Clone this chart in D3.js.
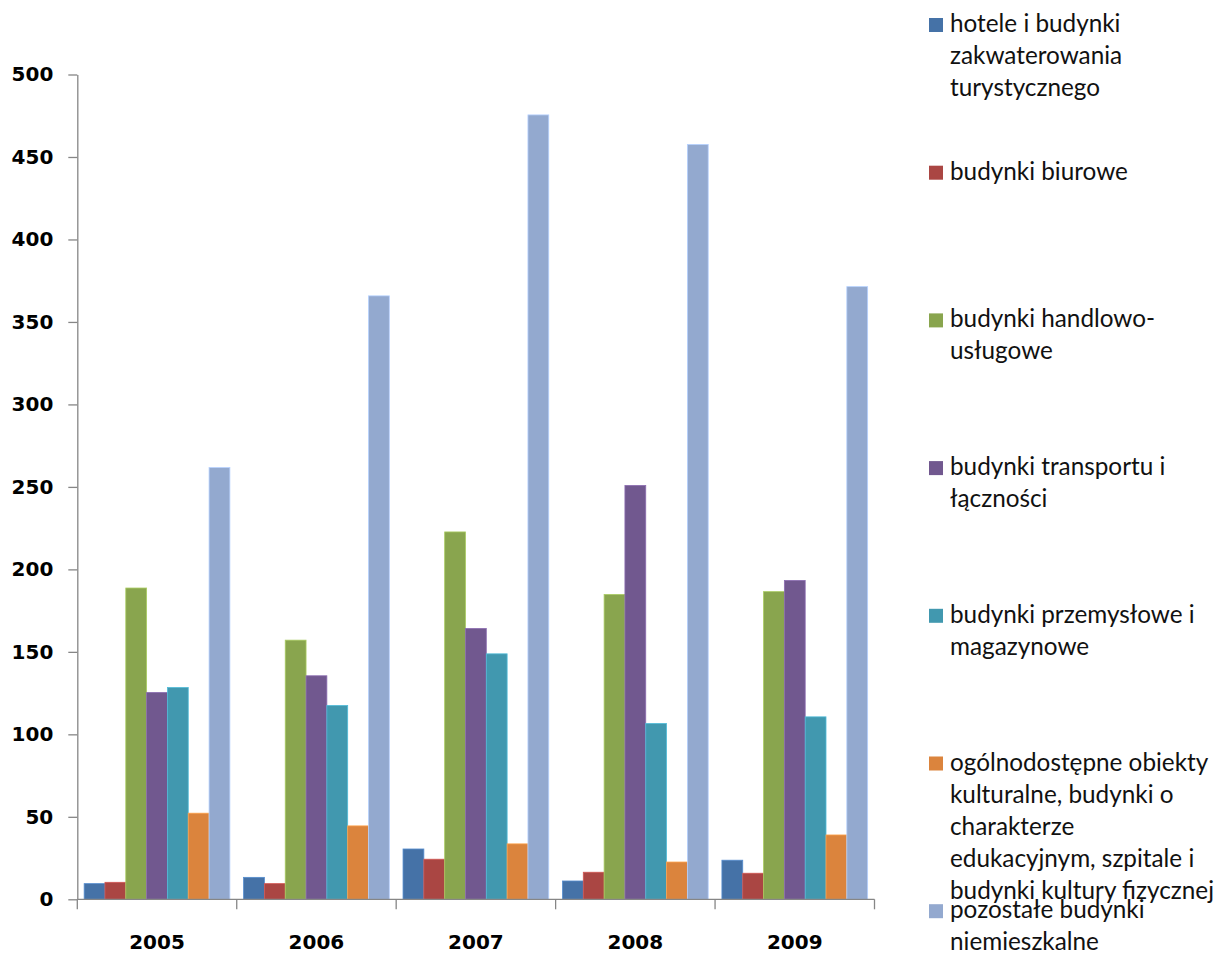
<!DOCTYPE html>
<html>
<head>
<meta charset="utf-8">
<script src="https://cdn.jsdelivr.net/npm/d3@7"></script>
<style>
  body { margin: 0; background: #fff; }
  svg { display: block; }
</style>
</head>
<body>
<div id="chart"></div>
<script>
const width = 1218;
const height = 956;

// Data
const years = ['2005', '2006', '2007', '2008', '2009'];
const seriesNames = [
  'hotele i budynki\nzakwaterowania\nturystycznego',
  'budynki biurowe',
  'budynki handlowo-\nusługowe',
  'budynki transportu i\nłączności',
  'budynki przemysłowe i\nmagazynowe',
  'ogólnodostępne obiekty\nkulturalne, budynki o\ncharakterze\nedukacyjnym, szpitale i\nbudynki kultury fizycznej',
  'pozostałe budynki\nniemieszkalne'
];
const hotele = [9.5, 13.3, 30.5, 11.1, 23.7];
const biurowe = [10.3, 9.5, 24.3, 16.4, 15.8];
const handlowe = [188.7, 157.1, 222.7, 184.8, 186.5];
const transport = [125.4, 135.5, 164.2, 250.9, 193.3];
const przemyslowe = [128.4, 117.5, 148.8, 106.6, 110.6];
const ogolnodostepne = [52.2, 44.5, 33.6, 22.6, 39.0];
const pozostale = [261.7, 365.8, 475.5, 457.6, 371.4];
const yTicks = [0, 50, 100, 150, 200, 250, 300, 350, 400, 450, 500];

const colors = ['#4572A7', '#AA4643', '#89A54E', '#71588F', '#4198AF', '#DB843D', '#93A9CF'];
const allSeries = [hotele, biurowe, handlowe, transport, przemyslowe, ogolnodostepne, pozostale];

const plot = { left: 77.3, right: 874.5, top: 74.5, bottom: 899.3 };

const svg = d3.select('#chart')
  .append('svg')
  .attr('width', width)
  .attr('height', height);

const y = d3.scaleLinear().domain([0, 500]).range([plot.bottom, plot.top]);
const x0 = d3.scaleBand().domain(years).range([plot.left, plot.right]);
const gap = x0.bandwidth() * 0.043;
const x1 = d3.scaleBand()
  .domain(d3.range(allSeries.length))
  .range([gap, x0.bandwidth() - gap]);

// === Bars ===
const groups = svg.append('g')
  .selectAll('g')
  .data(years)
  .join('g')
  .attr('transform', d => `translate(${x0(d)},0)`);

groups.selectAll('rect')
  .data((yr, i) => allSeries.map((s, k) => ({ k, v: s[i] })))
  .join('rect')
  .attr('x', d => x1(d.k))
  .attr('width', x1.bandwidth())
  .attr('y', d => y(d.v))
  .attr('height', d => plot.bottom - y(d.v))
  .attr('fill', d => colors[d.k])
  .attr('stroke', d => d3.color(colors[d.k]).brighter(0.6))
  .attr('stroke-width', 0.8);

// === Y axis ===
const yAxis = svg.append('g')
  .attr('transform', `translate(${plot.left},0)`)
  .call(d3.axisLeft(y).tickValues(yTicks).tickSize(9).tickPadding(15).tickSizeOuter(0));
yAxis.select('.domain').attr('stroke', '#868686').attr('stroke-width', 1.3);
yAxis.selectAll('.tick line').attr('stroke', '#868686').attr('stroke-width', 1.3);
yAxis.selectAll('.tick text')
  .attr('fill', '#000')
  .style('font-family', '"DejaVu Sans", Verdana, sans-serif')
  .style('font-weight', 'bold')
  .style('font-size', '20px');

// === X axis ===
const xAxis = svg.append('g')
  .attr('transform', `translate(0,${plot.bottom})`);
xAxis.append('line')
  .attr('x1', plot.left).attr('x2', plot.right)
  .attr('stroke', '#868686').attr('stroke-width', 1.3);
const boundaries = years.map(d => x0(d)).concat([plot.right]);
xAxis.selectAll('line.tick')
  .data(boundaries)
  .join('line')
  .attr('class', 'tick')
  .attr('x1', d => d).attr('x2', d => d)
  .attr('y1', 0).attr('y2', 10)
  .attr('stroke', '#868686').attr('stroke-width', 1.3);
xAxis.selectAll('text')
  .data(years)
  .join('text')
  .attr('x', d => x0(d) + x0.bandwidth() / 2)
  .attr('y', 50)
  .attr('text-anchor', 'middle')
  .style('font-family', '"DejaVu Sans", Verdana, sans-serif')
  .style('font-weight', 'bold')
  .style('font-size', '20px')
  .text(d => d);

// === Legend ===
const legendTop = 32;
const legendStep = 147.7;
const lineH = 32;
const legend = svg.append('g').attr('transform', 'translate(929,0)');
const items = legend.selectAll('g')
  .data(seriesNames)
  .join('g')
  .attr('transform', (d, i) => `translate(0,${legendTop + i * legendStep})`);
items.append('rect')
  .attr('x', 0).attr('y', -14)
  .attr('width', 14).attr('height', 14)
  .attr('fill', (d, i) => colors[i]);
items.append('text')
  .attr('x', 21)
  .style('font-family', 'Lato, "Open Sans", sans-serif')
  .style('font-size', '24.3px')
  .attr('fill', '#111')
  .selectAll('tspan')
  .data(d => d.split('\n'))
  .join('tspan')
  .attr('x', 21)
  .attr('y', (d, j) => j * lineH)
  .text(d => d);
</script>
</body>
</html>
